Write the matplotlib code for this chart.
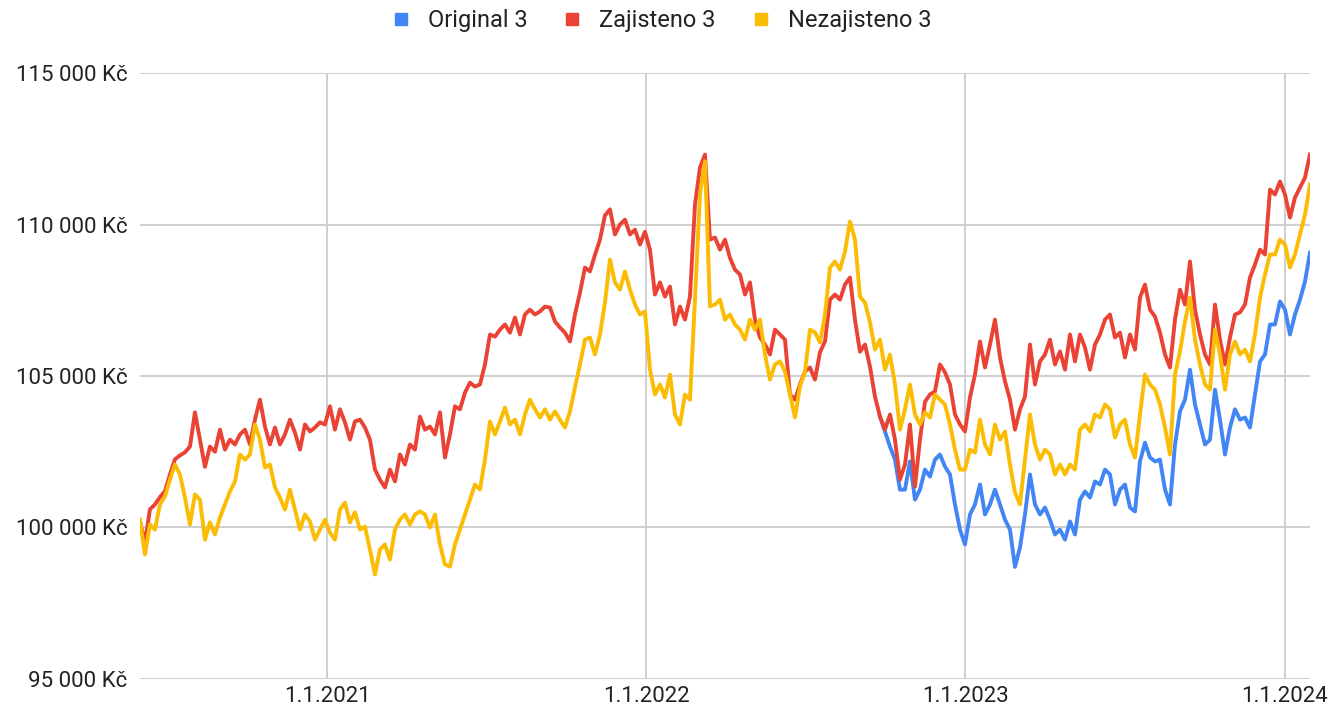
import matplotlib
matplotlib.use("Agg")
import matplotlib.pyplot as plt
import matplotlib.dates as mdates
from matplotlib.lines import Line2D
from matplotlib.ticker import FuncFormatter, MultipleLocator
import pandas as pd

# hodnoty (Kč), zhruba po 5-6 dnech
zajisteno = [
    100200, 99500, 100600, 100760, 101000, 101200, 101750, 102250, 102380, 102480,
    102670, 103800, 102900, 102000, 102670, 102500, 103230, 102570, 102900, 102740,
    103070, 103230, 102740, 103560, 104220, 103330, 102740, 103300, 102740, 103070,
    103560, 103130, 102570, 103400, 103170, 103300, 103470, 103400, 104000, 103230,
    103900, 103470, 102900, 103500, 103560, 103300, 102900, 101910, 101580, 101320,
    101910, 101520, 102410, 102080, 102740, 102570, 103660, 103230, 103330, 103070,
    103800, 102310, 103070, 104000, 103900, 104450, 104780, 104650, 104720, 105380,
    106370, 106300, 106530, 106700, 106430, 106930, 106370, 107030, 107190, 107030,
    107130, 107290, 107260, 106800, 106600, 106430, 106140, 107030, 107750, 108580,
    108450, 109000, 109500, 110300, 110500, 109670, 110000, 110160, 109670, 109830,
    109340, 109760, 109170, 107690, 108090, 107620, 107950, 106700, 107290, 106860,
    107620, 110650, 111880, 112310, 109500, 109570, 109170, 109500, 108900, 108510,
    108350, 107690, 108090, 106860, 106270, 106040, 105710, 106530, 106370, 106200,
    104390, 104220, 104720, 105150, 105280, 104880, 105780, 106140, 107520, 107690,
    107520, 108020, 108250, 106860, 105800, 106040, 105310, 104320, 103660, 103230,
    103730, 102900, 101580, 102080, 103400, 101350, 102900, 104150, 104390, 104490,
    105380, 105120, 104720, 103730, 103400, 103170, 104290, 105050, 106140, 105280,
    106040, 106860, 105610, 104820, 104220, 103230, 103900, 104320, 106040, 104720,
    105480, 105710, 106200, 105380, 105810, 105210, 106370, 105480, 106370, 105940,
    105210, 106040, 106370, 106860, 107030, 106270, 106430, 105610, 106370, 105870,
    107590, 108020, 107190, 106960, 106430, 105710, 105280, 106860, 107850, 107360,
    108780, 107190, 106370, 105710, 105380, 107360, 106200, 105380, 106270, 107030,
    107100, 107360, 108250, 108680, 109170, 109010, 111150, 110990, 111420, 110990,
    110230, 110890, 111220, 111550, 112310,
]

nezajisteno = [
    100260, 99110, 100100, 99930, 100760, 101020, 101580, 102080, 101750, 100990,
    100100, 101090, 100920, 99600, 100170, 99770, 100330, 100760, 101190, 101520,
    102410, 102240, 102410, 103400, 102900, 101980, 102080, 101320, 100990, 100590,
    101250, 100590, 99930, 100430, 100200, 99600, 99930, 100260, 99830, 99600,
    100590, 100820, 100170, 100500, 99930, 100030, 99270, 98450, 99270, 99440,
    98940, 99930, 100260, 100430, 100100, 100430, 100530, 100430, 100000, 100430,
    99440, 98780, 98710, 99440, 99930, 100430, 100920, 101420, 101250, 102240,
    103500, 103070, 103500, 103960, 103400, 103560, 103070, 103730, 104220, 103900,
    103630, 103900, 103560, 103830, 103560, 103300, 103830, 104620, 105380, 106200,
    106270, 105710, 106370, 107420, 108840, 108090, 107850, 108450, 107850, 107360,
    107030, 107130, 105210, 104390, 104720, 104290, 105050, 103730, 103400, 104390,
    104220, 107520, 110990, 112080, 107300, 107360, 107520, 106860, 107030, 106700,
    106530, 106200, 106860, 106530, 106860, 105710, 104880, 105380, 105480, 105150,
    104390, 103630, 104650, 105150, 106530, 106440, 106110, 107030, 108580, 108780,
    108510, 109110, 110100, 109500, 107620, 107420, 106770, 105870, 106200, 105210,
    105710, 104720, 103230, 103900, 104720, 103730, 103400, 103800, 103630, 104390,
    104220, 104060, 103400, 102570, 101910, 101910, 102570, 102470, 103560, 102740,
    102410, 103400, 102900, 103170, 102080, 101150, 100760, 102240, 103730, 102740,
    102240, 102570, 102410, 101750, 102080, 101750, 102080, 101910, 103230, 103400,
    103170, 103730, 103630, 104060, 103900, 102970, 103400, 103560, 102740, 102310,
    103730, 105050, 104720, 104550, 104060, 103300, 102410, 105050, 105810, 106800,
    107590, 106200, 105380, 104720, 104550, 106530, 105710, 104550, 105710, 106140,
    105710, 105870, 105480, 106370, 107590, 108350, 109010, 109010, 109500, 109340,
    108580, 109010, 109670, 110330, 111320,
]

# Original 3 je viditelny az od konce rijna 2022
original = [
    103660, 103170, 102670, 102240, 101250, 101250, 102180, 100920, 101250, 101910,
    101680, 102240, 102410, 102010, 101750, 100760, 99930, 99440, 100430, 100760,
    101420, 100430, 100760, 101250, 100760, 100260, 99930, 98700, 99340, 100430,
    101750, 100760, 100430, 100660, 100260, 99770, 99930, 99600, 100200, 99770,
    100920, 101190, 100990, 101520, 101420, 101910, 101750, 100760, 101250, 101420,
    100660, 100530, 102180, 102800, 102310, 102180, 102240, 101250, 100760, 102740,
    103830, 104220, 105210, 104060, 103400, 102740, 102900, 104550, 103560, 102410,
    103300, 103900, 103560, 103630, 103300, 104390, 105480, 105710, 106700, 106700,
    107460, 107190, 106370, 107030, 107520, 108120, 109070,
]

datum = pd.date_range("2020-06-01", "2024-01-30", periods=len(zajisteno))
datum_orig = datum[-len(original):]

plt.rcParams['font.family'] = ['Roboto', 'DejaVu Sans']

fig = plt.figure(figsize=(13.29, 7.13), dpi=100)
ax = fig.add_axes([0.1053, 0.0477, 0.8804, 0.8499])

ax.plot(datum_orig, original, color='#4285F4', lw=2.8)
ax.plot(datum, zajisteno, color='#EA4335', lw=2.8)
ax.plot(datum, nezajisteno, color='#FBBC04', lw=2.8)

ax.set_xlim(datum[0], datum[-1])
ax.set_ylim(95000, 115000)
ax.yaxis.set_major_locator(MultipleLocator(5000))
ax.yaxis.set_major_formatter(FuncFormatter(lambda v, p: f"{int(v):,}".replace(",", " ") + " Kč"))
ax.xaxis.set_major_locator(mdates.YearLocator())
ax.xaxis.set_major_formatter(FuncFormatter(
    lambda v, p: "{0.day}.{0.month}.{0.year}".format(mdates.num2date(v))))

ax.grid(True, color='#cccccc', lw=1.3)
ax.set_axisbelow(True)
for s in ax.spines.values():
    s.set_visible(False)
ax.tick_params(length=0, labelsize=16, colors='#222222')
ax.tick_params(axis='y', pad=9)
ax.tick_params(axis='x', pad=5)

handles = [Line2D([], [], marker='s', ls='', color=c, markersize=9)
           for c in ['#4285F4', '#EA4335', '#FBBC04']]
fig.legend(handles, ['Original 3', 'Zajisteno 3', 'Nezajisteno 3'],
           loc='upper center', bbox_to_anchor=(0.4975, 1.017), ncol=3, frameon=False,
           fontsize=17, handlelength=0.8, handletextpad=0.75, columnspacing=1.5,
           labelcolor='#222222')

plt.savefig("out.png", dpi=100)
